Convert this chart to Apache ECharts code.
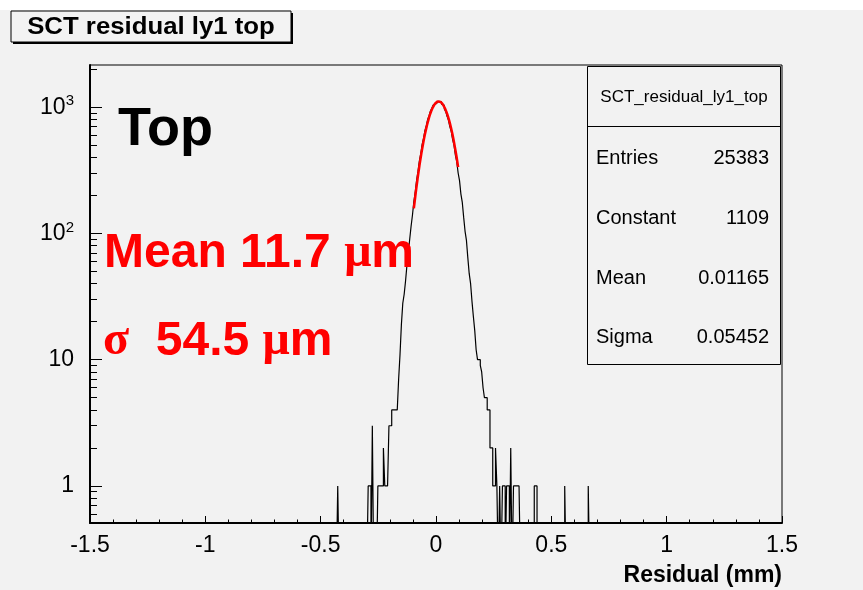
<!DOCTYPE html>
<html>
<head>
<meta charset="utf-8">
<script src="https://cdn.jsdelivr.net/npm/echarts@6/dist/echarts.min.js"></script>
<style>
  html, body { margin: 0; padding: 0; background: #fff; }
  #chart { width: 863px; height: 590px; }
</style>
</head>
<body>
<div id="chart"></div>
<script>
// histogram: 500 bins from -1.5 to 1.5 (width 0.006)
var xMin = -1.5;
var xMax = 1.5;
var binWidth = 0.006;
var nBins = 500;

// contiguous counts starting at bin 200 (x = -0.30)
var coreFirstBin = 200;
var coreCounts = [
    0, 1, 1, 0, 3, 0, 0, 0, 1, 1,
    1, 1, 2, 1, 1, 1, 3, 3, 4, 4,
    4, 4, 4, 7, 11, 19, 28, 33, 42, 56,
    71, 90, 114, 140, 179, 213, 265, 310, 376, 428,
    507, 566, 652, 714, 799, 855, 934, 979, 1041, 1064,
    1102, 1115, 1098, 1101, 1058, 1035, 969, 926, 846, 791,
    703, 645, 556, 501, 418, 370, 301, 262, 205, 176,
    134, 104, 88, 64, 48, 40, 29, 22, 17, 12,
    10, 10, 9, 8, 6, 5, 5, 4, 4, 2,
    2, 1, 1, 2, 1, 0, 1, 0, 1, 1,
    0, 1, 1, 0, 2, 0, 1, 1, 1, 1,
    1, 0
];
// isolated outliers
var sparseBins = [179, 321, 322, 343, 360];
var sparseCounts = [1, 1, 1, 1, 1];

// gaussian fit curve
var fitX = [-0.096, -0.088, -0.080, -0.072, -0.064, -0.056, -0.048, -0.040, -0.032, -0.024,
            -0.016, -0.008, 0.000, 0.008, 0.016, 0.024, 0.032, 0.040, 0.048, 0.056,
            0.064, 0.072, 0.080, 0.088, 0.096];
var fitY = [158, 209, 270, 342, 424, 514, 610, 708, 805, 896,
            975, 1039, 1084, 1107, 1106, 1081, 1034, 969, 888, 797,
            700, 601, 505, 416, 335];

var yMajor = [1, 10, 100, 1000];
var yMinor = [0.6, 0.7, 0.8, 0.9, 2, 3, 4, 5, 6, 7, 8, 9, 20, 30, 40, 50, 60, 70, 80, 90,
              200, 300, 400, 500, 600, 700, 800, 900, 2000];
var yLabels = {1: '1', 10: '10', 100: '10{s|2}', 1000: '10{s|3}'};

var statsTitle = 'SCT_residual_ly1_top';
var statsNames = ['Entries', 'Constant', 'Mean', 'Sigma'];
var statsValues = ['25383', '1109', '0.01165', '0.05452'];

var FONT = 'Liberation Sans, Arial, Helvetica, sans-serif';
var LOG_FLOOR = 0.2; // empty bins drop below the axis

var counts = [];
for (var i = 0; i < nBins; i++) counts[i] = 0;
for (i = 0; i < coreCounts.length; i++) counts[coreFirstBin + i] = coreCounts[i];
for (i = 0; i < sparseBins.length; i++) counts[sparseBins[i]] = sparseCounts[i];

var histData = [];
for (i = 0; i < nBins; i++) {
    histData.push([xMin + i * binWidth, counts[i] > 0 ? counts[i] : LOG_FLOOR]);
}
histData.push([xMax, LOG_FLOOR]);

var fitData = [];
for (i = 0; i < fitX.length; i++) fitData.push([fitX[i], fitY[i]]);

var chart = echarts.init(document.getElementById('chart'));

var graphics = [
    {type: 'rect', shape: {x: 0, y: 0, width: 863, height: 10}, style: {fill: '#fff'}, silent: true},
    // title box
    {type: 'rect', shape: {x: 13, y: 13, width: 280, height: 31}, style: {fill: '#000'}},
    {type: 'rect', shape: {x: 11, y: 11, width: 280, height: 31}, style: {fill: '#f3f3f3', stroke: '#000', lineWidth: 1}},
    {type: 'text', x: 151, y: 28, scaleX: 1.12,
        style: {text: 'SCT residual ly1 top', font: 'bold 23px ' + FONT, fill: '#000', align: 'center', verticalAlign: 'middle'}},
    // big labels
    {type: 'text', x: 118, y: 130,
        style: {text: 'Top', font: 'bold 54px ' + FONT, fill: '#000', align: 'left', verticalAlign: 'middle'}, z: 10},
    {type: 'text', x: 104, y: 254, z: 10,
        style: {text: '{a|Mean 11.7 }{g|μ}{a|m}', align: 'left', verticalAlign: 'middle',
            rich: {a: {font: 'bold 48px ' + FONT, fill: '#ff0000'}, g: {font: 'bold 48px Liberation Serif, serif', fill: '#ff0000'}}}},
    {type: 'text', x: 103, y: 342, z: 10,
        style: {text: '{g|σ}{a|  54.5 }{g|μ}{a|m}', align: 'left', verticalAlign: 'middle',
            rich: {a: {font: 'bold 48px ' + FONT, fill: '#ff0000'}, g: {font: 'bold 48px Liberation Serif, serif', fill: '#ff0000'}}}},
    // axis title
    {type: 'text', x: 782, y: 576,
        style: {text: 'Residual (mm)', font: 'bold 23px ' + FONT, fill: '#000', align: 'right', verticalAlign: 'middle'}},
    // stats box
    {type: 'rect', shape: {x: 587.5, y: 66.5, width: 193, height: 298}, style: {fill: '#f2f2f2', stroke: '#000', lineWidth: 1}, z: 20},
    {type: 'line', shape: {x1: 587.5, y1: 126.5, x2: 780.5, y2: 126.5}, style: {stroke: '#000', lineWidth: 1}, z: 21},
    {type: 'text', x: 684, y: 97, z: 21,
        style: {text: statsTitle, font: '17px ' + FONT, fill: '#000', align: 'center', verticalAlign: 'middle'}}
];
var rowY = [158, 218, 278, 337];
statsNames.forEach(function (name, idx) {
    graphics.push({type: 'text', x: 596, y: rowY[idx], z: 21,
        style: {text: name, font: '20px ' + FONT, fill: '#000', align: 'left', verticalAlign: 'middle'}});
    graphics.push({type: 'text', x: 769, y: rowY[idx], z: 21,
        style: {text: statsValues[idx], font: '20px ' + FONT, fill: '#000', align: 'right', verticalAlign: 'middle'}});
});

var option = {
    animation: false,
    backgroundColor: '#f2f2f2',
    grid: {
        left: 90, right: 81, top: 65, bottom: 67,
        show: true, borderColor: '#000', borderWidth: 1, backgroundColor: 'transparent'
    },
    xAxis: {
        type: 'value',
        min: xMin, max: xMax, interval: 0.5,
        axisLine: {onZero: false, lineStyle: {color: '#000', width: 2}},
        axisTick: {inside: true, length: 7, lineStyle: {color: '#000', width: 1}},
        minorTick: {show: true, splitNumber: 5, length: 3.5, lineStyle: {color: '#000', width: 1}},
        splitLine: {show: false},
        axisLabel: {
            color: '#000', fontSize: 23, fontFamily: FONT, margin: 11,
            formatter: function (v) { return String(Math.round(v * 10) / 10); }
        }
    },
    yAxis: [{
        type: 'log', logBase: 10, min: 0.509, max: 2158, position: 'left',
        axisLine: {onZero: false, lineStyle: {color: '#000', width: 2}},
        axisTick: {inside: true, length: 12, customValues: yMajor, lineStyle: {color: '#000', width: 1}},
        splitLine: {show: false},
        axisLabel: {
            color: '#000', fontSize: 23, fontFamily: FONT, margin: 16, customValues: yMajor,
            formatter: function (v) { return yLabels[Math.round(v)] || ''; },
            rich: {s: {fontSize: 15, fontFamily: FONT, color: '#000', verticalAlign: 'top', padding: [0, 0, 12, 0]}}
        }
    }, {
        type: 'log', logBase: 10, min: 0.509, max: 2158, position: 'left',
        axisLine: {show: false, onZero: false},
        axisTick: {inside: true, length: 7, customValues: yMinor, lineStyle: {color: '#000', width: 1}},
        splitLine: {show: false},
        axisLabel: {show: false}
    }],
    series: [{
        name: 'SCT_residual_ly1_top',
        type: 'line',
        step: 'end',
        data: histData,
        showSymbol: false,
        clip: true,
        lineStyle: {color: '#000', width: 1.2},
        z: 2
    }, {
        name: 'gaus fit',
        type: 'line',
        data: fitData,
        smooth: true,
        showSymbol: false,
        lineStyle: {color: '#ff0000', width: 2.5},
        z: 3
    }],
    graphic: graphics
};
chart.setOption(option);
</script>
</body>
</html>
